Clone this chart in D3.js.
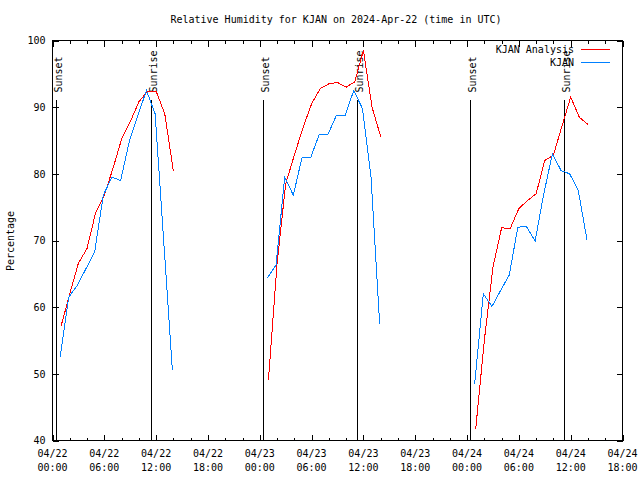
<!DOCTYPE html>
<html>
<head>
<meta charset="utf-8">
<script src="https://cdn.jsdelivr.net/npm/d3@7"></script>
<style>
  html, body { margin: 0; padding: 0; background: #fff; }
  svg { display: block; }
  text { font-family: "DejaVu Sans Mono", "Liberation Mono", monospace; font-size: 10px; fill: #000; }
</style>
</head>
<body>
<svg id="chart" width="640" height="480"></svg>
<script>
// ---------------- DATA ----------------
const chartTitle = "Relative Humidity for KJAN on 2024-Apr-22 (time in UTC)";
const yLabel = "Percentage";
const seriesNames = ["KJAN Analysis", "KJAN"];

// Analysis (hourly, on the hour)
const analysisTimes = [
  "2024-04-22T01:00Z","2024-04-22T02:00Z","2024-04-22T03:00Z","2024-04-22T04:00Z","2024-04-22T05:00Z","2024-04-22T06:00Z","2024-04-22T07:00Z",
  "2024-04-22T08:00Z","2024-04-22T09:00Z","2024-04-22T10:00Z","2024-04-22T11:00Z","2024-04-22T12:00Z","2024-04-22T13:00Z","2024-04-22T14:00Z",
  "2024-04-23T01:00Z","2024-04-23T02:00Z","2024-04-23T03:00Z","2024-04-23T04:00Z","2024-04-23T05:00Z","2024-04-23T06:00Z","2024-04-23T07:00Z",
  "2024-04-23T08:00Z","2024-04-23T09:00Z","2024-04-23T10:00Z","2024-04-23T11:00Z","2024-04-23T12:00Z","2024-04-23T13:00Z","2024-04-23T14:00Z",
  "2024-04-24T01:00Z","2024-04-24T02:00Z","2024-04-24T03:00Z","2024-04-24T04:00Z","2024-04-24T05:00Z","2024-04-24T06:00Z","2024-04-24T07:00Z",
  "2024-04-24T08:00Z","2024-04-24T09:00Z","2024-04-24T10:00Z","2024-04-24T11:00Z","2024-04-24T12:00Z","2024-04-24T13:00Z","2024-04-24T14:00Z"
];
const analysisValues = [
  57.2, 62.0, 66.6, 68.8, 74.2, 76.8, 80.8, 85.2, 87.8, 90.8, 92.4, 92.4, 89.0, 80.4,
  49.0, 66.5, 78.5, 82.8, 86.9, 90.5, 92.8, 93.5, 93.7, 93.0, 93.8, 98.5, 90.0, 85.6,
  41.7, 55.0, 66.0, 71.9, 71.8, 74.8, 76.0, 77.0, 82.0, 82.8, 87.2, 91.5, 88.5, 87.4
];

// Observations (hourly METAR at :53)
const obsTimes = [
  "2024-04-22T00:53Z","2024-04-22T01:53Z","2024-04-22T02:53Z","2024-04-22T03:53Z","2024-04-22T04:53Z","2024-04-22T05:53Z","2024-04-22T06:53Z",
  "2024-04-22T07:53Z","2024-04-22T08:53Z","2024-04-22T09:53Z","2024-04-22T10:53Z","2024-04-22T11:53Z","2024-04-22T12:53Z","2024-04-22T13:53Z",
  "2024-04-23T00:53Z","2024-04-23T01:53Z","2024-04-23T02:53Z","2024-04-23T03:53Z","2024-04-23T04:53Z","2024-04-23T05:53Z","2024-04-23T06:53Z",
  "2024-04-23T07:53Z","2024-04-23T08:53Z","2024-04-23T09:53Z","2024-04-23T10:53Z","2024-04-23T11:53Z","2024-04-23T12:53Z","2024-04-23T13:53Z",
  "2024-04-24T00:53Z","2024-04-24T01:53Z","2024-04-24T02:53Z","2024-04-24T03:53Z","2024-04-24T04:53Z","2024-04-24T05:53Z","2024-04-24T06:53Z",
  "2024-04-24T07:53Z","2024-04-24T08:53Z","2024-04-24T09:53Z","2024-04-24T10:53Z","2024-04-24T11:53Z","2024-04-24T12:53Z","2024-04-24T13:53Z"
];
const obsValues = [
  52.5, 61.5, 63.3, 65.8, 68.3, 76.8, 79.5, 79.0, 84.8, 88.8, 92.5, 89.0, 69.8, 50.5,
  64.4, 66.3, 79.5, 76.8, 82.4, 82.4, 85.9, 85.9, 88.8, 88.8, 92.5, 89.8, 79.5, 57.5,
  48.5, 62.0, 60.1, 62.5, 64.8, 72.0, 72.1, 69.9, 77.0, 83.0, 80.5, 80.0, 77.5, 70.1
];

// Sun events
const sunTimes = [
  "2024-04-22T00:28Z","2024-04-22T11:29Z",
  "2024-04-23T00:28Z","2024-04-23T11:22Z",
  "2024-04-24T00:27Z","2024-04-24T11:20Z"
];
const sunLabels = ["Sunset","Sunrise","Sunset","Sunrise","Sunset","Sunrise"];

const xDomain = ["2024-04-22T00:00Z", "2024-04-24T18:00Z"];
const yDomain = [40, 100];
const yTickValues = [40, 50, 60, 70, 80, 90, 100];
const sunLineTop = 91.15;
const sunLabelStart = 92.2;

const seriesColors = ["#ff0000", "#0080ff"];

// ---------------- DRAW ----------------
const svg = d3.select("#chart");
const L = 52.5, R = 622.5, T = 40.5, B = 440.5;

const x = d3.scaleUtc().domain(xDomain.map(d => new Date(d))).range([L, R]);
const y = d3.scaleLinear().domain(yDomain).range([B, T]);

// title
svg.append("text").attr("x", 336).attr("y", 23).attr("text-anchor", "middle").text(chartTitle);

// y label
svg.append("text").attr("transform", "translate(14,241) rotate(-90)")
  .attr("text-anchor", "middle").text(yLabel);

function styleAxis(g) {
  g.select(".domain").remove();
  g.selectAll("line").attr("stroke", "#000").attr("shape-rendering", "crispEdges");
}

const hour6 = d3.utcHour.every(6);
const hour2 = d3.utcHour.every(2);
const minorTicks = x.ticks(hour2).filter(d => d.getUTCHours() % 6 !== 0);

// bottom major + minor
svg.append("g").attr("transform", `translate(0,${B})`)
  .call(d3.axisBottom(x).ticks(hour6).tickSize(-6).tickSizeOuter(0).tickFormat(() => ""))
  .call(styleAxis);
svg.append("g").attr("transform", `translate(0,${B})`)
  .call(d3.axisBottom(x).tickValues(minorTicks).tickSize(-3).tickSizeOuter(0).tickFormat(() => ""))
  .call(styleAxis);
// top mirror
svg.append("g").attr("transform", `translate(0,${T})`)
  .call(d3.axisTop(x).ticks(hour6).tickSize(-6).tickSizeOuter(0).tickFormat(() => ""))
  .call(styleAxis);
svg.append("g").attr("transform", `translate(0,${T})`)
  .call(d3.axisTop(x).tickValues(minorTicks).tickSize(-3).tickSizeOuter(0).tickFormat(() => ""))
  .call(styleAxis);

// x tick labels (two lines)
const fmtDate = d3.utcFormat("%m/%d"), fmtTime = d3.utcFormat("%H:%M");
const xl = svg.append("g");
x.ticks(hour6).forEach(t => {
  const tx = xl.append("text").attr("x", x(t)).attr("text-anchor", "middle");
  tx.append("tspan").attr("x", x(t)).attr("y", 457).text(fmtDate(t));
  tx.append("tspan").attr("x", x(t)).attr("y", 471).text(fmtTime(t));
});

// y axes
svg.append("g").attr("transform", `translate(${L},0)`)
  .call(d3.axisLeft(y).tickValues(yTickValues).tickSize(-6).tickSizeOuter(0).tickPadding(7))
  .call(styleAxis)
  .call(g => g.selectAll("text").attr("font-family", null).attr("font-size", null).attr("fill", "#000"));
svg.append("g").attr("transform", `translate(${R},0)`)
  .call(d3.axisRight(y).tickValues(yTickValues).tickSize(-6).tickSizeOuter(0).tickFormat(() => ""))
  .call(styleAxis);

// border
svg.append("rect").attr("x", L).attr("y", T).attr("width", R - L).attr("height", B - T)
  .attr("fill", "none").attr("stroke", "#000").attr("shape-rendering", "crispEdges");

// sun lines & labels
sunTimes.forEach((s, i) => {
  const sx = Math.floor(x(new Date(s))) + 0.5;
  svg.append("line").attr("x1", sx).attr("x2", sx).attr("y1", y(yDomain[0])).attr("y2", y(sunLineTop))
    .attr("stroke", "#000").attr("shape-rendering", "crispEdges");
  svg.append("text").attr("transform", `translate(${sx + 5},${y(sunLabelStart)}) rotate(-90)`)
    .attr("text-anchor", "start").text(sunLabels[i]);
});

// series lines (break at gaps > 3 h)
function segments(times, values) {
  const pts = times.map((t, i) => ({ t: new Date(t), v: values[i] }));
  const segs = [];
  let cur = [];
  pts.forEach((p, i) => {
    if (i > 0 && (p.t - pts[i - 1].t) > 3 * 3600e3) { segs.push(cur); cur = []; }
    cur.push(p);
  });
  segs.push(cur);
  return segs;
}
const line = d3.line().x(d => x(d.t)).y(d => y(d.v));
[[analysisTimes, analysisValues], [obsTimes, obsValues]].forEach(([ts, vs], k) => {
  segments(ts, vs).forEach(seg => {
    svg.append("path").datum(seg).attr("d", line)
      .attr("fill", "none").attr("stroke", seriesColors[k]).attr("stroke-width", 1)
      .attr("shape-rendering", "crispEdges");
  });
});

// legend
seriesNames.forEach((name, i) => {
  const ly = 49.5 + i * 13;
  svg.append("text").attr("x", 574).attr("y", ly).attr("dy", "0.35em").attr("text-anchor", "end").text(name);
  svg.append("line").attr("x1", 581).attr("x2", 610).attr("y1", ly).attr("y2", ly)
    .attr("stroke", seriesColors[i]).attr("shape-rendering", "crispEdges");
});
</script>
</body>
</html>
